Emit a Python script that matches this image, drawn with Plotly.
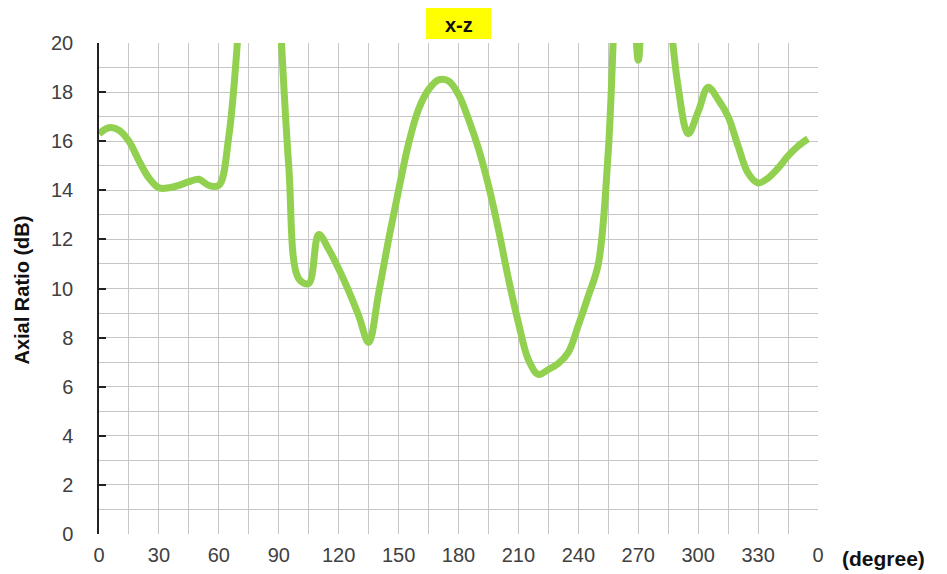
import plotly.graph_objects as go

# Angle (degree) and axial ratio (dB)
angle_deg = list(range(0, 360, 5))
axial_ratio_db = [
    16.3, 16.55, 16.45, 16.0, 15.2, 14.5, 14.1, 14.1, 14.2, 14.35,
    14.45, 14.2, 14.2, 16.2, 20.8, 27.0, 30.0, 29.0, 22.0, 15.0,
    10.4, 10.2, 12.2, 11.6, 10.8, 9.9, 8.9, 7.8, 9.8, 12.0,
    14.0, 15.9, 17.3, 18.1, 18.5, 18.45, 17.9, 16.9, 15.7, 14.2,
    12.4, 10.4, 8.6, 7.1, 6.5, 6.7, 6.95, 7.4, 8.5, 9.7,
    11.0, 15.6, 24.0, 27.0, 19.3, 27.0, 28.0, 22.0, 18.2, 16.3,
    17.2, 18.2, 17.7, 17.0, 15.8, 14.7, 14.3, 14.5, 14.9, 15.4,
    15.8, 16.1,
]

x_tick_vals = list(range(0, 361, 30))
x_tick_text = ["0", "30", "60", "90", "120", "150", "180", "210", "240", "270", "300", "330", "0"]
y_tick_vals = list(range(0, 21, 2))

title_text = "x-z"
y_title = "Axial Ratio (dB)"
x_title = "(degree)"

FONT = "Liberation Sans, Arial, sans-serif"
GRID = "#c6c6c6"

fig = go.Figure()
fig.add_trace(go.Scatter(
    x=angle_deg, y=axial_ratio_db, mode="lines",
    line=dict(color="#92d050", width=7, shape="spline", smoothing=1.0),
    showlegend=False,
))

# page body has an 8px margin; compensate so the plot lands where the reference has it
OFF = 8
W, H = 947 - OFF, 574 - OFF
ml, mt = 99 - OFF, 43 - OFF
pw, ph = 719, 491
mr = W - ml - pw
mb = H - mt - ph

fig.update_layout(
    width=W, height=H,
    margin=dict(l=ml, r=mr, t=mt, b=mb, autoexpand=False),
    paper_bgcolor="white", plot_bgcolor="white",
    font=dict(family=FONT, size=20, color="#404040"),
    showlegend=False,
)
fig.update_xaxes(
    range=[0, 360], tickvals=x_tick_vals, ticktext=x_tick_text,
    showgrid=True, gridcolor=GRID, gridwidth=1,
    minor=dict(dtick=15, tick0=0, showgrid=True, gridcolor=GRID, gridwidth=1),
    ticks="", showline=False, zeroline=False, automargin=False,
    ticklabelstandoff=7,
    tickfont=dict(family=FONT, size=20, color="#404040"),
)
fig.update_yaxes(
    range=[0, 20], tickvals=y_tick_vals,
    showgrid=True, gridcolor=GRID, gridwidth=1,
    minor=dict(dtick=1, tick0=0, showgrid=True, gridcolor=GRID, gridwidth=1),
    ticks="inside", ticklen=7, tickwidth=1.5, tickcolor="#222222",
    showline=True, linecolor="#222222", linewidth=1.5,
    zeroline=False, automargin=False,
    ticklabelstandoff=20,
    tickfont=dict(family=FONT, size=20, color="#404040"),
)

# yellow title box
bw = 65
fig.add_shape(type="rect", xref="paper", yref="paper",
              x0=0.5 - bw / 2 / pw, x1=0.5 + bw / 2 / pw,
              y0=1 + 4 / ph, y1=1 + 50 / ph,
              fillcolor="#ffff00", line=dict(width=0), layer="above")
fig.add_annotation(text=f"<b>{title_text}</b>", xref="paper", yref="paper",
                   x=0.5, y=1 + 18 / ph, xanchor="center", yanchor="middle",
                   showarrow=False, font=dict(family=FONT, size=20, color="#111111"))
fig.add_annotation(text=f"<b>{y_title}</b>", xref="paper", yref="paper",
                   x=-(99.5 - 22) / pw, y=(534 - 290) / ph, xanchor="center", yanchor="middle",
                   textangle=-90, showarrow=False,
                   font=dict(family=FONT, size=20, color="#111111"))
fig.add_annotation(text=f"<b>{x_title}</b>", xref="paper", yref="paper",
                   x=(883.5 - 99) / pw, y=(534 - 558) / ph, xanchor="center", yanchor="middle",
                   showarrow=False, font=dict(family=FONT, size=21, color="#111111"))

fig.write_html("out.html")
